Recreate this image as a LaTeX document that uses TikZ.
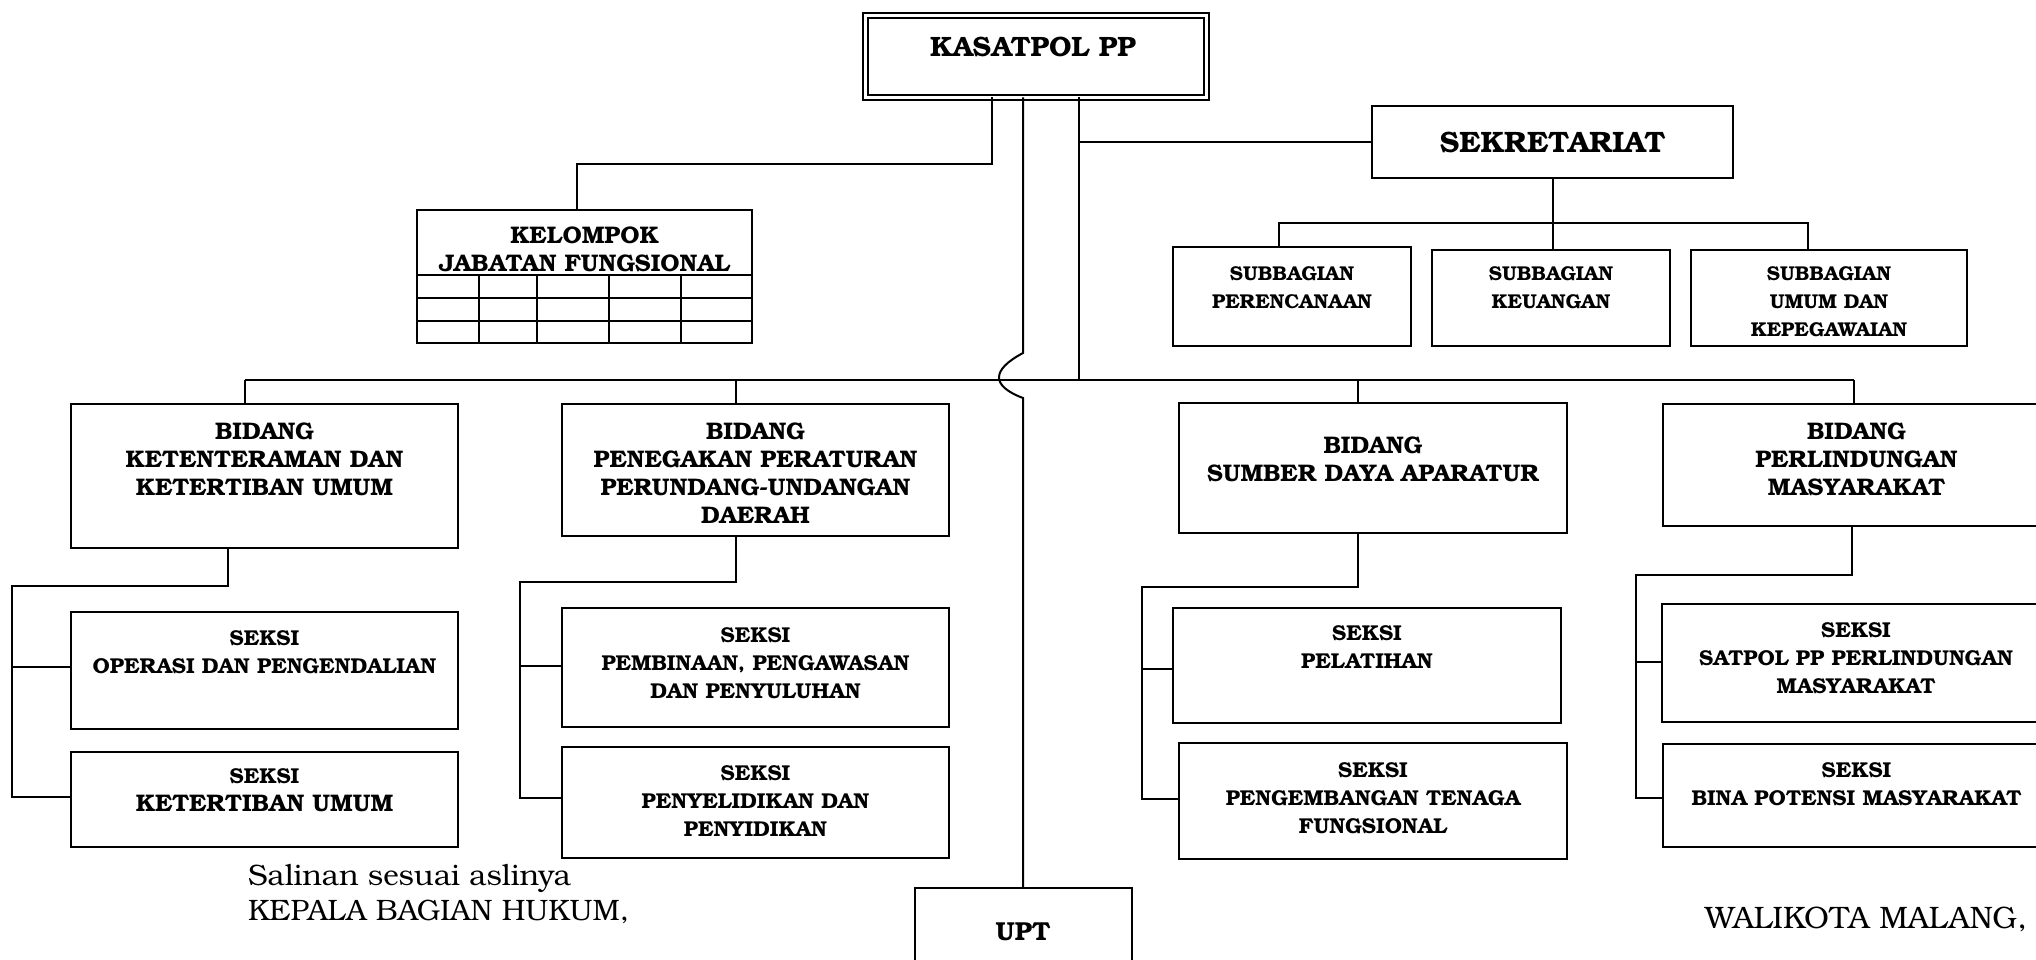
\documentclass[tikz,border=0pt]{standalone}
\usepackage{fontspec}
\setmainfont{TeX Gyre Bonum}
\begin{document}
\begin{tikzpicture}[x=1pt,y=-1pt,
  box/.style={draw, line width=2pt, rectangle, inner sep=0pt, outer sep=0pt},
  txt/.style={inner sep=0pt, align=center, font=\bfseries\fontsize{#1}{28}\selectfont},
  ln/.style={line width=2pt},
  foot/.style={anchor=base west, inner sep=0pt, font=\fontsize{29.5}{30}\selectfont}
]
\useasboundingbox (0,0) rectangle (2036,960);
\clip (0,0) rectangle (2036,960);

% top
\node[box, double, double distance=2.5pt, line width=2.5pt, minimum width=341pt, minimum height=82pt] (kasat) at (1036,56.5) {};
\node[txt=28, anchor=north] (kasat-t) at ([xshift=-3pt,yshift=-21.5pt]kasat.north) {KASATPOL PP};

\node[box, minimum width=361pt, minimum height=72pt] (sek) at (1552.5,142) {};
\node[txt=29.5] (sek-t) at (sek) {SEKRETARIAT};

\node[box, minimum width=238pt, minimum height=99pt] (sper) at (1292,296.5) {};
\node[txt=20, anchor=north] (sper-t) at ([yshift=-19pt]sper.north) {SUBBAGIAN\\PERENCANAAN};
\node[box, minimum width=238pt, minimum height=96pt] (skeu) at (1551,298) {};
\node[txt=20, anchor=north] (skeu-t) at ([yshift=-16pt]skeu.north) {SUBBAGIAN\\KEUANGAN};
\node[box, minimum width=276pt, minimum height=96pt] (sumum) at (1829,298) {};
\node[txt=20, anchor=north] (sumum-t) at ([yshift=-16pt]sumum.north) {SUBBAGIAN\\UMUM DAN\\KEPEGAWAIAN};

\node[box, minimum width=335pt, minimum height=133pt] (jf) at (584.5,276.5) {};
\node[txt=24, anchor=north] (jf-t) at ([yshift=-17pt]jf.north) {KELOMPOK\\JABATAN FUNGSIONAL};
\foreach \yy in {275,298,321} \draw[ln] (417,\yy) -- (752,\yy);
\foreach \xx in {479,537,609,681} \draw[ln] (\xx,275) -- (\xx,343);

% bidang
\node[box, minimum width=387pt, minimum height=144pt] (b1) at (264.5,476) {};
\node[txt=24, anchor=north] (b1-t) at ([yshift=-19pt]b1.north) {BIDANG\\KETENTERAMAN DAN\\KETERTIBAN UMUM};
\node[box, minimum width=387pt, minimum height=132pt] (b2) at (755.5,470) {};
\node[txt=24, anchor=north] (b2-t) at ([yshift=-19pt]b2.north) {BIDANG\\PENEGAKAN PERATURAN\\PERUNDANG-UNDANGAN\\DAERAH};
\node[box, minimum width=388pt, minimum height=130pt] (b3) at (1373,468) {};
\node[txt=24, anchor=north] (b3-t) at ([yshift=-34pt]b3.north) {BIDANG\\SUMBER DAYA APARATUR};
\node[box, minimum width=387pt, minimum height=122pt] (b4) at (1856.5,465) {};
\node[txt=24, anchor=north] (b4-t) at ([yshift=-19pt]b4.north) {BIDANG\\PERLINDUNGAN\\MASYARAKAT};

% seksi
\node[box, minimum width=387pt, minimum height=117pt] (s11) at (264.5,670.5) {};
\node[txt=21.5, anchor=north] (s11-t) at ([yshift=-18pt]s11.north) {SEKSI\\OPERASI DAN PENGENDALIAN};
\node[box, minimum width=387pt, minimum height=95pt] (s12) at (264.5,799.5) {};
\node[txt=21.5, anchor=north] (s12-t) at ([yshift=-16pt]s12.north) {SEKSI\\{\fontsize{24}{28}\selectfont KETERTIBAN UMUM}};
\node[box, minimum width=387pt, minimum height=119pt] (s21) at (755.5,667.5) {};
\node[txt=21.5, anchor=north] (s21-t) at ([yshift=-19pt]s21.north) {SEKSI\\PEMBINAAN, PENGAWASAN\\DAN PENYULUHAN};
\node[box, minimum width=387pt, minimum height=111pt] (s22) at (755.5,802.5) {};
\node[txt=21.5, anchor=north] (s22-t) at ([yshift=-18pt]s22.north) {SEKSI\\PENYELIDIKAN DAN\\PENYIDIKAN};
\node[box, minimum width=388pt, minimum height=115pt] (s31) at (1367,665.5) {};
\node[txt=21.5, anchor=north] (s31-t) at ([yshift=-17pt]s31.north) {SEKSI\\PELATIHAN};
\node[box, minimum width=388pt, minimum height=116pt] (s32) at (1373,801) {};
\node[txt=21.5, anchor=north] (s32-t) at ([yshift=-19pt]s32.north) {SEKSI\\PENGEMBANGAN TENAGA\\FUNGSIONAL};
\node[box, minimum width=388pt, minimum height=118pt] (s41) at (1856,663) {};
\node[txt=21.5, anchor=north] (s41-t) at ([yshift=-18pt]s41.north) {SEKSI\\SATPOL PP PERLINDUNGAN\\MASYARAKAT};
\node[box, minimum width=387pt, minimum height=103pt] (s42) at (1856.5,795.5) {};
\node[txt=21.5, anchor=north] (s42-t) at ([yshift=-18pt]s42.north) {SEKSI\\BINA POTENSI MASYARAKAT};

\node[box, minimum width=217pt, minimum height=102pt] (upt) at (1023,939) {};
\node[txt=26, anchor=north] (upt-t) at ([yshift=-35pt]upt.north) {UPT};

% connectors
\coordinate (jk) at (992,164);
\draw[ln] (kasat.south -| jk) -- (jk) -| ([xshift=-7.5pt]jf.north);
\coordinate (bt) at (1079,380);
\draw[ln] (kasat.south -| bt) -- (bt);
\draw[ln] (sek.west) -- (sek.west -| bt);
\coordinate (u1) at (1023,353);
\coordinate (u2) at (1023,398);
\draw[ln] (kasat.south -| u1) -- (u1) .. controls (991,370) and (991,386) .. (u2) -- (upt.north);

\coordinate (t1) at (245,380);
\coordinate (t2) at (736,380);
\coordinate (t3) at (1358,380);
\coordinate (t4) at (1854,380);
\draw[ln] (t1) -- (t4);
\draw[ln] (t1) -- (t1 |- b1.north);
\draw[ln] (t2) -- (t2 |- b2.north);
\draw[ln] (t3) -- (t3 |- b3.north);
\draw[ln] (t4) -- (t4 |- b4.north);

\draw[ln] (sek.south) -- (sek.south |- skeu.north);
\coordinate (sh) at (1550,223);
\draw[ln] ([xshift=-13pt]sper.north) |- (sh) -| ([xshift=-21pt]sumum.north);

% seksi connectors
\coordinate (d1) at (228,586); \coordinate (v1) at (12,586); \coordinate (e1) at (12,797); \coordinate (f1) at (12,667);
\draw[ln] (d1 |- b1.south) -- (d1) -- (v1) -- (e1) -- (e1 -| s12.west);
\draw[ln] (f1) -- (f1 -| s11.west);
\coordinate (d2) at (736,582); \coordinate (v2) at (520,582); \coordinate (e2) at (520,798); \coordinate (f2) at (520,666);
\draw[ln] (d2 |- b2.south) -- (d2) -- (v2) -- (e2) -- (e2 -| s22.west);
\draw[ln] (f2) -- (f2 -| s21.west);
\coordinate (d3) at (1358,587); \coordinate (v3) at (1142,587); \coordinate (e3) at (1142,799); \coordinate (f3) at (1142,669);
\draw[ln] (d3 |- b3.south) -- (d3) -- (v3) -- (e3) -- (e3 -| s32.west);
\draw[ln] (f3) -- (f3 -| s31.west);
\coordinate (d4) at (1852,575); \coordinate (v4) at (1636,575); \coordinate (e4) at (1636,798); \coordinate (f4) at (1636,662);
\draw[ln] (d4 |- b4.south) -- (d4) -- (v4) -- (e4) -- (e4 -| s42.west);
\draw[ln] (f4) -- (f4 -| s41.west);

% footer
\node[foot] (sal) at (248,885) {Salinan sesuai aslinya};
\node[foot] (kep) at (248,920) {KEPALA BAGIAN HUKUM,};
\node[foot, font=\fontsize{31}{32}\selectfont] (wal) at (1705,928) {WALIKOTA MALANG,};
\end{tikzpicture}
\end{document}
